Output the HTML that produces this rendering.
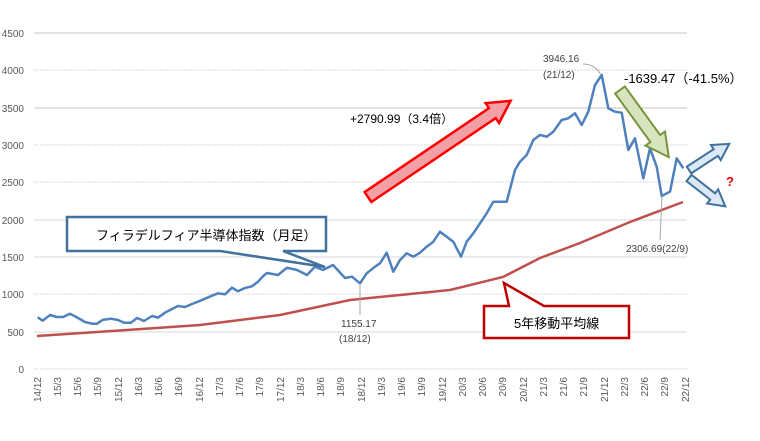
<!DOCTYPE html>
<html><head><meta charset="utf-8"><style>
body{margin:0;background:#fff}
svg{display:block;font-family:"Liberation Sans","Noto Sans CJK JP",sans-serif}
</style></head><body>
<svg width="760" height="441" viewBox="0 0 760 441" xmlns="http://www.w3.org/2000/svg">
<g stroke="#d9d9d9" stroke-width="1">
<line x1="34" y1="33" x2="687" y2="33" stroke-width="1.5"/>
<line x1="34" y1="70" x2="687" y2="70" stroke-dasharray="2,1"/>
<line x1="34" y1="108" x2="687" y2="108" stroke-width="1.5"/>
<line x1="34" y1="145" x2="687" y2="145" stroke-dasharray="2,1"/>
<line x1="34" y1="182" x2="687" y2="182" stroke-dasharray="2,1"/>
<line x1="34" y1="220" x2="687" y2="220"/>
<line x1="34" y1="257" x2="687" y2="257"/>
<line x1="34" y1="294" x2="687" y2="294" stroke-dasharray="2,1"/>
<line x1="34" y1="332" x2="687" y2="332"/>
<line x1="34" y1="369" x2="687" y2="369" stroke-dasharray="2,1"/>
</g>
<g font-size="10" fill="#595959" text-anchor="end">
<text x="24" y="37">4500</text><text x="24" y="74">4000</text><text x="24" y="112">3500</text>
<text x="24" y="149">3000</text><text x="24" y="186">2500</text><text x="24" y="224">2000</text>
<text x="24" y="261">1500</text><text x="24" y="298">1000</text><text x="24" y="336">500</text>
<text x="24" y="373">0</text>
</g>
<g font-size="10" fill="#595959" text-anchor="end" id="xl"></g>
<polyline fill="none" stroke="#c0504d" stroke-width="2.5" points="37,336 127,330 200,325 280,315 350,300 400,295 450,290 503,277 540,258 580,243 630,222 683,202"/>
<polyline fill="none" stroke="#4f81bd" stroke-width="2.5" stroke-linejoin="round" points="37.7,317.3 42.7,320.7 50,315 56.7,317 63,317 70,313.7 78,318 85,322 92,323.7 97,323.7 103,319.7 111,318.7 118,320 124,322.7 131,322.7 137,318 144,321 152,316 158,317.7 165,312.7 172,309 178,306 185,307 192,304 198,301.7 205,298.7 212,295.7 218,293.3 225,294.3 232,287.7 238,291.3 245,288 252,286.3 258,281.7 263.3,276 267,273 278,275 287,267.7 297,270 307,275 315,266.7 323,270 333,265 345,278 352,276.7 360,283.3 366.7,273.3 375,266.7 380,263.3 386.7,252.7 393.3,271.7 400,260 406.7,253.3 413.3,256.7 420,252.7 426.7,246.7 433.3,241.7 440,231.7 446.7,236.7 453.3,241.7 461,256.7 466.7,241.7 473.3,233.3 480,223.3 486.7,213.3 493.3,201.7 506.7,201.7 515,170 520,161.7 526.7,155 533.3,140 540,135 546.7,136.7 553.3,131.7 561.7,120 568.3,118.3 575,113.3 581.7,125 588.3,111.7 595,85 601.7,75 608.3,108.3 615,111.7 621.7,112.7 628.3,150 635,138.3 643.3,178.3 650,148.3 656.7,166.7 661.7,196 670,191.7 676.7,158.3 683.3,168.3"/>
<!-- leaders -->
<g stroke="#a6a6a6" fill="none" stroke-width="1">
<line x1="360" y1="284" x2="360" y2="315"/>
<path d="M583,64 Q595,64 601,75"/>
<line x1="662" y1="196" x2="660" y2="240"/>
</g>
<g font-size="10" fill="#404040">
<text x="341" y="327">1155.17</text><text x="339" y="342">(18/12)</text>
<text x="543" y="62">3946.16</text><text x="543" y="78">(21/12)</text>
<text x="626" y="252">2306.69(22/9)</text>
</g>
<text x="350" y="123" font-size="12" fill="#000">+2790.99（3.4倍）</text>
<text x="624" y="83" font-size="13" fill="#000">-1639.47（-41.5%）</text>
<text x="726" y="186" font-size="13" font-weight="bold" fill="#e00">?</text>
<!-- red arrow -->
<g transform="translate(368,197) rotate(-34)">
<polygon points="0,-6 150,-6 150,-12 172,0 150,12 150,6 0,6" fill="#f2a0a6" stroke="#f00" stroke-width="2.5"/>
</g>
<!-- green arrow -->
<g transform="translate(620,90) rotate(54)">
<polygon points="0,-6 60,-6 60,-12 83,0 60,12 60,6 0,6" fill="#d7e4bd" stroke="#77933c" stroke-width="2"/>
</g>
<!-- blue arrows -->
<g transform="translate(689,170) rotate(-33)">
<polygon points="0,-4 32,-4 32,-9 48,0 32,9 32,4 0,4" fill="#dbe8f5" stroke="#41719c" stroke-width="2"/>
</g>
<g transform="translate(689,178) rotate(38)">
<polygon points="0,-4 30,-4 30,-9 46,0 30,9 30,4 0,4" fill="#dbe8f5" stroke="#41719c" stroke-width="2"/>
</g>
<!-- callouts -->
<path d="M67,217 H326 V251 H283 L325,267 L220,251 H67 Z" fill="#fff" stroke="#41719c" stroke-width="2.5"/>
<text x="96" y="240" font-size="13" fill="#000">フィラデルフィア半導体指数（月足）</text>
<path d="M484,306 H509 L504,283 L544,306 H629 V338 H484 Z" fill="#fff" stroke="#c00000" stroke-width="2.5"/>
<text x="514" y="328" font-size="13" fill="#000">5年移動平均線</text>
<g font-size="10" fill="#595959" text-anchor="end">
<text transform="translate(41,377) rotate(-90)">14/12</text>
<text transform="translate(61,377) rotate(-90)">15/3</text>
<text transform="translate(81,377) rotate(-90)">15/6</text>
<text transform="translate(101,377) rotate(-90)">15/9</text>
<text transform="translate(122,377) rotate(-90)">15/12</text>
<text transform="translate(142,377) rotate(-90)">16/3</text>
<text transform="translate(162,377) rotate(-90)">16/6</text>
<text transform="translate(182,377) rotate(-90)">16/9</text>
<text transform="translate(203,377) rotate(-90)">16/12</text>
<text transform="translate(223,377) rotate(-90)">17/3</text>
<text transform="translate(243,377) rotate(-90)">17/6</text>
<text transform="translate(263,377) rotate(-90)">17/9</text>
<text transform="translate(284,377) rotate(-90)">17/12</text>
<text transform="translate(304,377) rotate(-90)">18/3</text>
<text transform="translate(324,377) rotate(-90)">18/6</text>
<text transform="translate(344,377) rotate(-90)">18/9</text>
<text transform="translate(365,377) rotate(-90)">18/12</text>
<text transform="translate(385,377) rotate(-90)">19/3</text>
<text transform="translate(405,377) rotate(-90)">19/6</text>
<text transform="translate(425,377) rotate(-90)">19/9</text>
<text transform="translate(446,377) rotate(-90)">19/12</text>
<text transform="translate(466,377) rotate(-90)">20/3</text>
<text transform="translate(486,377) rotate(-90)">20/6</text>
<text transform="translate(506,377) rotate(-90)">20/9</text>
<text transform="translate(527,377) rotate(-90)">20/12</text>
<text transform="translate(547,377) rotate(-90)">21/3</text>
<text transform="translate(567,377) rotate(-90)">21/6</text>
<text transform="translate(587,377) rotate(-90)">21/9</text>
<text transform="translate(608,377) rotate(-90)">21/12</text>
<text transform="translate(628,377) rotate(-90)">22/3</text>
<text transform="translate(648,377) rotate(-90)">22/6</text>
<text transform="translate(668,377) rotate(-90)">22/9</text>
<text transform="translate(689,377) rotate(-90)">22/12</text>
</g>
</svg>
</body></html>
